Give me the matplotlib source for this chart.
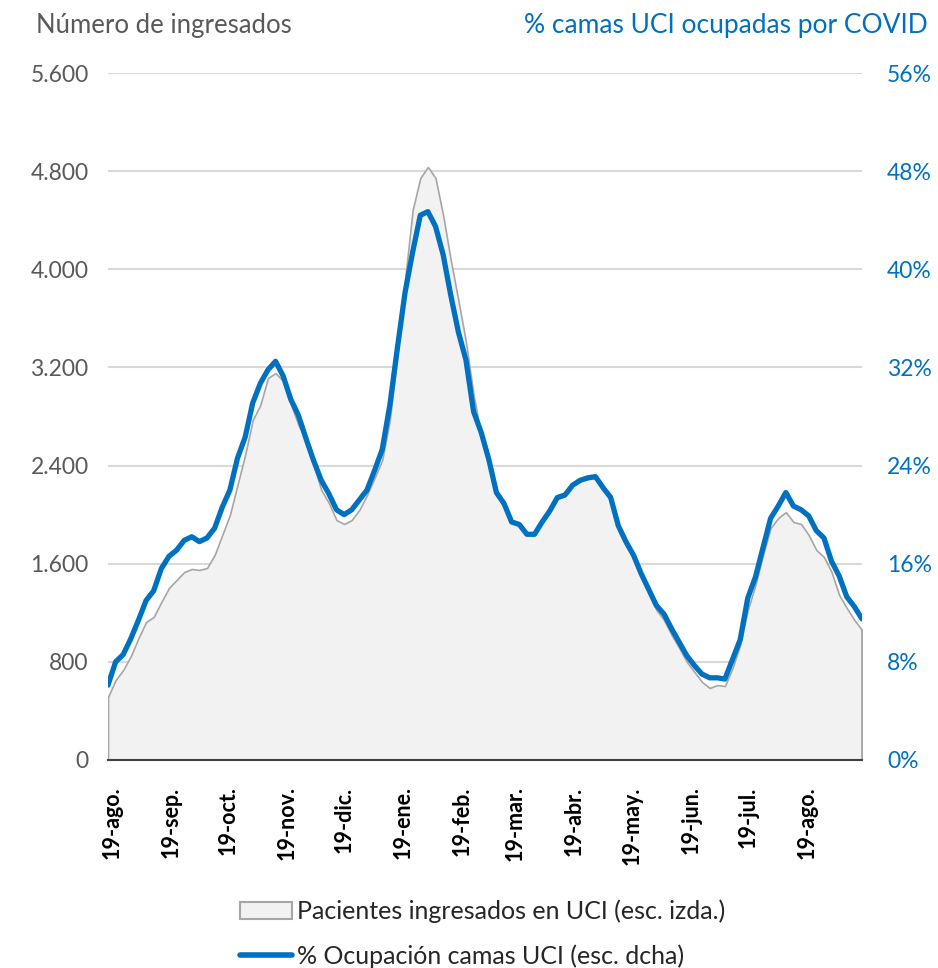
import matplotlib
matplotlib.use("Agg")
import matplotlib.pyplot as plt
from matplotlib.lines import Line2D
from matplotlib.patches import Patch
from matplotlib.ticker import FuncFormatter, MultipleLocator
import pandas as pd

# values read every 4 days from 17-ago-2020
pacientes_uci = [
    514, 652, 734, 848, 994, 1125, 1166, 1288, 1402, 1467,
    1532, 1557, 1549, 1565, 1671, 1834, 1997, 2242, 2486, 2771,
    2894, 3114, 3154, 3089, 2902, 2731, 2608, 2405, 2201, 2095,
    1956, 1924, 1956, 2038, 2160, 2299, 2445, 2771, 3301, 3912,
    4483, 4744, 4834, 4744, 4442, 4076, 3749, 3407, 2975, 2649,
    2462, 2201, 2095, 1956, 1915, 1842, 1842, 1932, 2021, 2127,
    2152, 2233, 2274, 2290, 2299, 2209, 2119, 1891, 1752, 1647,
    1492, 1361, 1223, 1141, 1019, 913, 799, 717, 636, 587,
    611, 603, 750, 937, 1223, 1426, 1671, 1891, 1973, 2021,
    1940, 1924, 1834, 1712, 1655, 1532, 1345, 1239, 1141, 1060,
]
ocupacion_uci = [
    6.1, 8.0, 8.6, 9.9, 11.4, 13.0, 13.8, 15.6, 16.6, 17.1,
    17.9, 18.2, 17.8, 18.1, 18.9, 20.6, 22.0, 24.6, 26.3, 29.1,
    30.7, 31.8, 32.5, 31.3, 29.4, 28.1, 26.2, 24.4, 22.8, 21.7,
    20.4, 20.0, 20.4, 21.2, 22.0, 23.6, 25.3, 28.9, 33.6, 38.1,
    41.4, 44.4, 44.7, 43.5, 41.2, 37.9, 34.9, 32.6, 28.4, 26.7,
    24.5, 21.8, 20.9, 19.4, 19.2, 18.4, 18.4, 19.4, 20.3, 21.4,
    21.6, 22.4, 22.8, 23.0, 23.1, 22.2, 21.4, 19.1, 17.8, 16.7,
    15.2, 13.9, 12.6, 11.9, 10.7, 9.6, 8.5, 7.7, 7.0, 6.7,
    6.7, 6.6, 8.2, 9.8, 13.2, 14.9, 17.3, 19.7, 20.7, 21.8,
    20.7, 20.4, 19.9, 18.7, 18.1, 16.2, 15.0, 13.3, 12.5, 11.5,
]
month_labels = ["ago.", "sep.", "oct.", "nov.", "dic.", "ene.", "feb.",
                "mar.", "abr.", "may.", "jun.", "jul.", "ago."]

fechas = pd.date_range("2020-08-17", periods=len(pacientes_uci), freq="4D")
ticks = pd.date_range("2020-08-01", periods=len(month_labels), freq="MS") + pd.Timedelta(days=18)

BLUE = "#0070C0"
GREY_TXT = "#595959"
plt.rcParams["font.family"] = ["Lato", "DejaVu Sans"]

fig = plt.figure(figsize=(9.38, 9.68), dpi=100)
ax = fig.add_axes([108 / 938, 1 - 760 / 968, (862 - 108) / 938, (760 - 73) / 968])
ax2 = ax.twinx()

ax.fill_between(fechas, pacientes_uci, 0, facecolor="#f2f2f2", edgecolor="#a6a6a6", linewidth=1.2, zorder=2)
ax.plot([fechas[0], fechas[0]], [0, pacientes_uci[0]], color="#a6a6a6", lw=1.2, zorder=2)
ax.plot([fechas[-1], fechas[-1]], [0, pacientes_uci[-1]], color="#a6a6a6", lw=1.2, zorder=2)
ax2.plot(fechas, ocupacion_uci, color=BLUE, lw=3.8, solid_capstyle="round", solid_joinstyle="round")

ax.set_xlim(fechas[0], fechas[-1])
ax.set_ylim(0, 5600)
ax2.set_ylim(0, 56)
ax.yaxis.set_major_locator(MultipleLocator(800))
ax2.yaxis.set_major_locator(MultipleLocator(8))
ax.yaxis.set_major_formatter(FuncFormatter(lambda v, p: f"{int(v):,}".replace(",", ".")))
ax2.yaxis.set_major_formatter(FuncFormatter(lambda v, p: f"{int(v)}%"))

ax.grid(axis="y", color="#d9d9d9", lw=1.5, zorder=0)
ax.set_axisbelow(True)
for a in (ax, ax2):
    for s in ("top", "left", "right", "bottom"):
        a.spines[s].set_visible(False)
ax.spines["bottom"].set_visible(True)
ax.spines["bottom"].set_color("#404040")
ax.spines["bottom"].set_linewidth(1.5)
ax.spines["bottom"].set_zorder(5)

ax.set_xticks(ticks)
ax.set_xticklabels(["19-" + m for m in month_labels], rotation=90, fontsize=15.5,
                   fontweight="bold", color="black")
ax.tick_params(axis="x", length=0, pad=19)
ax.tick_params(axis="y", length=0, pad=14, labelsize=16.5, labelcolor=GREY_TXT)
ax2.tick_params(axis="y", length=0, pad=18, labelsize=16.5, labelcolor=BLUE)

fig.text(36 / 938, 1 - 25 / 968, "Número de ingresados", fontsize=18.5, color=GREY_TXT,
         ha="left", va="center")
fig.text(928 / 938, 1 - 25 / 968, "% camas UCI ocupadas por COVID", fontsize=19, color=BLUE,
         ha="right", va="center")

handles = [Patch(facecolor="#f2f2f2", edgecolor="#a6a6a6", lw=1.5),
           Line2D([0], [0], color=BLUE, lw=4, solid_capstyle="round")]
fig.legend(handles, ["Pacientes ingresados en UCI (esc. izda.)", "% Ocupación camas UCI (esc. dcha)"],
           loc="upper left", bbox_to_anchor=(217 / 938, 1 - 877 / 968), frameon=False,
           fontsize=18, handlelength=2.1, handletextpad=0.2, labelspacing=0.85,
           labelcolor="#262626")

fig.savefig("out.png", dpi=100)
